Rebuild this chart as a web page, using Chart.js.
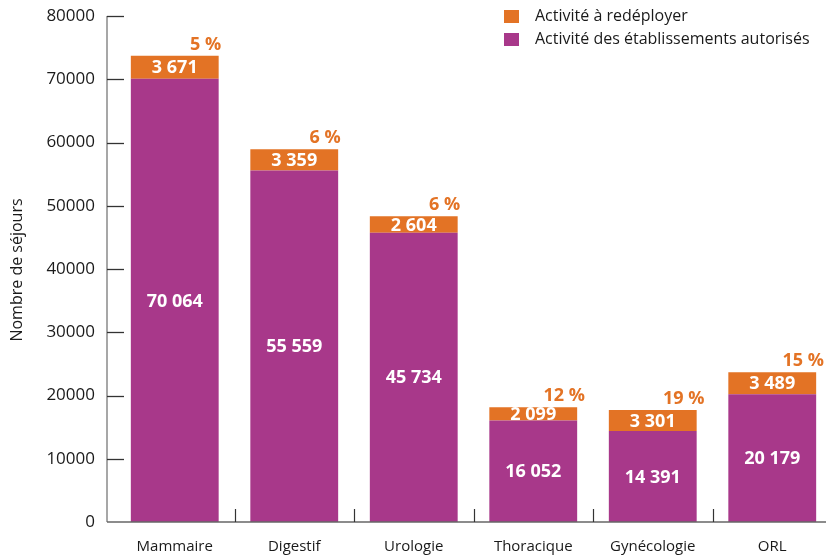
<!DOCTYPE html>
<html lang="fr">
<head>
<meta charset="utf-8">
<title>Nombre de séjours par spécialité</title>
<script src="https://cdn.jsdelivr.net/npm/chart.js@4.4.1/dist/chart.umd.min.js"></script>
<style>
    html, body { margin: 0; padding: 0; background: #fff; }
    #wrap { width: 826px; height: 558px; overflow: hidden; position: relative; }
    #grafico { display: block; }
</style>
</head>
<body>
<div id="wrap">
    <canvas id="grafico" width="840" height="558"></canvas>
</div>
<script>
// Données
const categories = ['Mammaire', 'Digestif', 'Urologie', 'Thoracique', 'Gynécologie', 'ORL'];
const activiteAutorisee = [70064, 55559, 45734, 16052, 14391, 20179];
const activiteRedeployer = [3671, 3359, 2604, 2099, 3301, 3489];
const pourcentages = ['5 %', '6 %', '6 %', '12 %', '19 %', '15 %'];
const ticksY = [0, 10000, 20000, 30000, 40000, 50000, 60000, 70000, 80000];

const ORANGE = '#E37325';
const VIOLET = '#A8388A';
const POLICE = "'Open Sans', 'DejaVu Sans', sans-serif";

// Format "70 064"
function formatNombre(v) {
    return String(v).replace(/\B(?=(\d{3})+(?!\d))/g, ' ');
}

// Axes, légende et étiquettes dessinés à la main
const decorPlugin = {
    id: 'decor',
    afterDatasetsDraw(chart) {
        const ctx = chart.ctx;
        const y = chart.scales.y;
        const x = chart.scales.x;
        const axeX = 107;
        const base = y.getPixelForValue(0);

        ctx.save();

        // axe vertical
        ctx.strokeStyle = '#8a8a8a';
        ctx.lineWidth = 1.5;
        ctx.beginPath();
        ctx.moveTo(axeX, y.getPixelForValue(80000));
        ctx.lineTo(axeX, base);
        ctx.stroke();

        // petites graduations vers l'intérieur
        ctx.strokeStyle = '#333';
        ctx.lineWidth = 1.3;
        ticksY.forEach(v => {
            if (v === 0) return;
            const py = Math.round(y.getPixelForValue(v)) + 0.5;
            ctx.beginPath();
            ctx.moveTo(axeX, py);
            ctx.lineTo(axeX + 17, py);
            ctx.stroke();
        });

        // axe horizontal
        ctx.strokeStyle = '#666';
        ctx.lineWidth = 1.5;
        ctx.beginPath();
        ctx.moveTo(axeX, base);
        ctx.lineTo(chart.width, base);
        ctx.stroke();

        // séparateurs entre catégories
        ctx.strokeStyle = '#333';
        ctx.lineWidth = 1.2;
        for (let i = 0; i < categories.length - 1; i++) {
            const px = Math.round((x.getPixelForValue(i) + x.getPixelForValue(i + 1)) / 2) + 0.5;
            ctx.beginPath();
            ctx.moveTo(px, base);
            ctx.lineTo(px, base - 13);
            ctx.stroke();
        }

        // titre de l'axe Y
        ctx.fillStyle = '#1a1a1a';
        ctx.font = `16px ${POLICE}`;
        ctx.textAlign = 'center';
        ctx.textBaseline = 'middle';
        ctx.save();
        ctx.translate(17, 270);
        ctx.rotate(-Math.PI / 2);
        ctx.fillText('Nombre de séjours', 0, 0);
        ctx.restore();

        // valeurs dans les barres
        ctx.font = `bold 18px ${POLICE}`;
        ctx.fillStyle = '#fff';
        chart.data.datasets.forEach((ds, di) => {
            chart.getDatasetMeta(di).data.forEach((bar, i) => {
                const cy = (bar.y + bar.base) / 2;
                ctx.fillText(formatNombre(ds.data[i]), bar.x, cy + 1);
            });
        });

        // pourcentages au-dessus des barres
        ctx.fillStyle = ORANGE;
        ctx.font = `bold 18px ${POLICE}`;
        ctx.textBaseline = 'alphabetic';
        chart.getDatasetMeta(1).data.forEach((bar, i) => {
            const droite = bar.x + bar.width / 2;
            ctx.fillText(pourcentages[i], droite - 13, bar.y - 6);
        });

        // légende
        const items = [chart.data.datasets[1], chart.data.datasets[0]];
        ctx.font = `16px ${POLICE}`;
        ctx.textAlign = 'left';
        ctx.textBaseline = 'middle';
        items.forEach((ds, k) => {
            const ly = 16 + k * 23;
            ctx.fillStyle = ds.backgroundColor;
            ctx.fillRect(504, ly - 6, 15, 13);
            ctx.fillStyle = '#1a1a1a';
            ctx.fillText(ds.label, 535, ly);
        });

        ctx.restore();
    }
};

const ctx = document.getElementById('grafico').getContext('2d');
new Chart(ctx, {
    type: 'bar',
    data: {
        labels: categories,
        datasets: [
            {
                label: 'Activité des établissements autorisés',
                data: activiteAutorisee,
                backgroundColor: VIOLET,
                borderWidth: 0
            },
            {
                label: 'Activité à redéployer',
                data: activiteRedeployer,
                backgroundColor: ORANGE,
                borderWidth: 0
            }
        ]
    },
    options: {
        responsive: false,
        animation: false,
        devicePixelRatio: 1,
        layout: {
            padding: { top: 16, right: 8, left: 0, bottom: 0 }
        },
        plugins: {
            legend: { display: false },
            tooltip: { enabled: false }
        },
        datasets: {
            bar: {
                categoryPercentage: 1,
                barPercentage: 0.735
            }
        },
        scales: {
            x: {
                stacked: true,
                grid: { display: false },
                border: { display: false },
                ticks: {
                    color: '#1a1a1a',
                    font: { family: POLICE, size: 15 },
                    padding: 8,
                    maxRotation: 0
                },
                afterFit: scale => { scale.height = 36; }
            },
            y: {
                stacked: true,
                min: 0,
                max: 80000,
                grid: { display: false, drawTicks: true, tickLength: 17 },
                border: { display: false },
                ticks: {
                    stepSize: 10000,
                    color: '#1a1a1a',
                    font: { family: POLICE, size: 17 },
                    padding: 3,
                    callback: v => String(v)
                },
                afterFit: scale => { scale.width = 115; }
            }
        }
    },
    plugins: [decorPlugin]
});
</script>
</body>
</html>
